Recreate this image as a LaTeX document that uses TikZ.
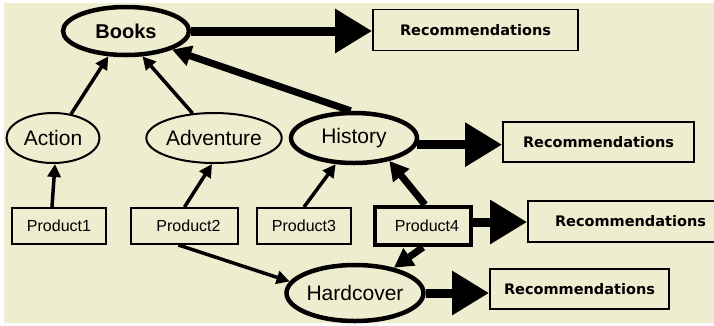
\documentclass[tikz,border=0pt]{standalone}
\usepackage{fontspec}
\setmainfont{Liberation Sans}
\newfontfamily\recfont{DejaVu Sans}
\usetikzlibrary{arrows.meta,shapes.geometric}
\definecolor{bg}{HTML}{EFEDCF}
\begin{document}
\begin{tikzpicture}[x=1pt,y=-1pt,
 ell/.style={ellipse, draw, line width=2pt, inner sep=0pt, font=\fontsize{21}{24}\selectfont},
 ellthick/.style={ell, line width=4.5pt},
 prod/.style={rectangle, draw, line width=2pt, inner sep=0pt, font=\fontsize{16}{18}\selectfont},
 prodthick/.style={prod, line width=4.5pt},
 rec/.style={rectangle, draw, line width=1.8pt, inner sep=0pt, font=\recfont\bfseries\fontsize{14.5}{17}\selectfont},
 thinarr/.style={line width=3.5pt, -{Triangle[length=13pt,width=13pt]}},
 thickarr/.style={line width=7pt, -{Triangle[length=19pt,width=20pt]}},
 bigarr/.style={line width=9pt, -{Triangle[length=37pt,width=42pt]}},
]
\useasboundingbox (0,0) rectangle (714,325);
\clip (0,0) rectangle (714,325);
\fill[white] (0,0) rectangle (714,325);
\fill[bg] (4,3) rectangle (714,323);

% ellipses
\node[ellthick, minimum width=126pt, minimum height=48pt, font=\bfseries\fontsize{20}{24}\selectfont] (books) at (126,31) {Books};
\node[ell, minimum width=93pt, minimum height=50pt] (act) at (53,138) {Action};
\node[ell, minimum width=125pt, minimum height=50pt] (adv) at (214,138) {Adventure};
\node[ellthick, minimum width=126pt, minimum height=50pt] (hist) at (354,138) {History};
\node[ellthick, minimum width=126pt, minimum height=56pt] (hard) at (355,293) {Hardcover};

% products
\node[prod, minimum width=94pt, minimum height=36pt] (p1) at (59,226) {Product1};
\node[prod, minimum width=107pt, minimum height=36pt] (p2) at (184.5,226) {\hspace{8pt}Product2};
\node[prod, minimum width=94pt, minimum height=36pt] (p3) at (304,226) {Product3};
\node[prodthick, minimum width=96pt, minimum height=38pt] (p4) at (423,226) {\hspace{8pt}Product4};

% recommendations
\node[rec, minimum width=205pt, minimum height=41pt] (r1) at (475.5,30) {Recommendations};
\node[rec, minimum width=191pt, minimum height=40pt] (r2) at (598.5,142) {Recommendations};
\node[rec, minimum width=205pt, minimum height=41pt] (r3) at (630.5,221.5) {Recommendations};
\node[rec, minimum width=179pt, minimum height=40pt] (r4) at (579.5,289) {Recommendations};

% hierarchy arrows
\draw[thinarr] (act.53) -- (books.235);
\draw[thinarr] (adv.131) -- (books.303);
\draw[thickarr] (hist.97) -- (books.-22);
\draw[thinarr] ([xshift=-7pt]p1.north) -- ([xshift=2pt]act.south);
\draw[thinarr] (p2.north) -- ([xshift=-2pt]adv.south);
\draw[thinarr] (p3.north) -- (hist.235);
\draw[thickarr] ([xshift=2pt]p4.north) -- (hist.-33);
\draw[thickarr] (p4.south) -- (hard.33);
\draw[thinarr] ([xshift=-6pt]p2.south) -- (hard.170);

% recommendation arrows
\draw[bigarr] (books.east) -- (books.east -| r1.west);
\draw[bigarr] (hist.-6) -- (hist.-6 -| r2.west);
\draw[bigarr] ([yshift=4pt]p4.east) -- ([yshift=4pt]p4.east -| r3.west);
\draw[bigarr] (hard.east) -- (hard.east -| r4.west);
\end{tikzpicture}
\end{document}
